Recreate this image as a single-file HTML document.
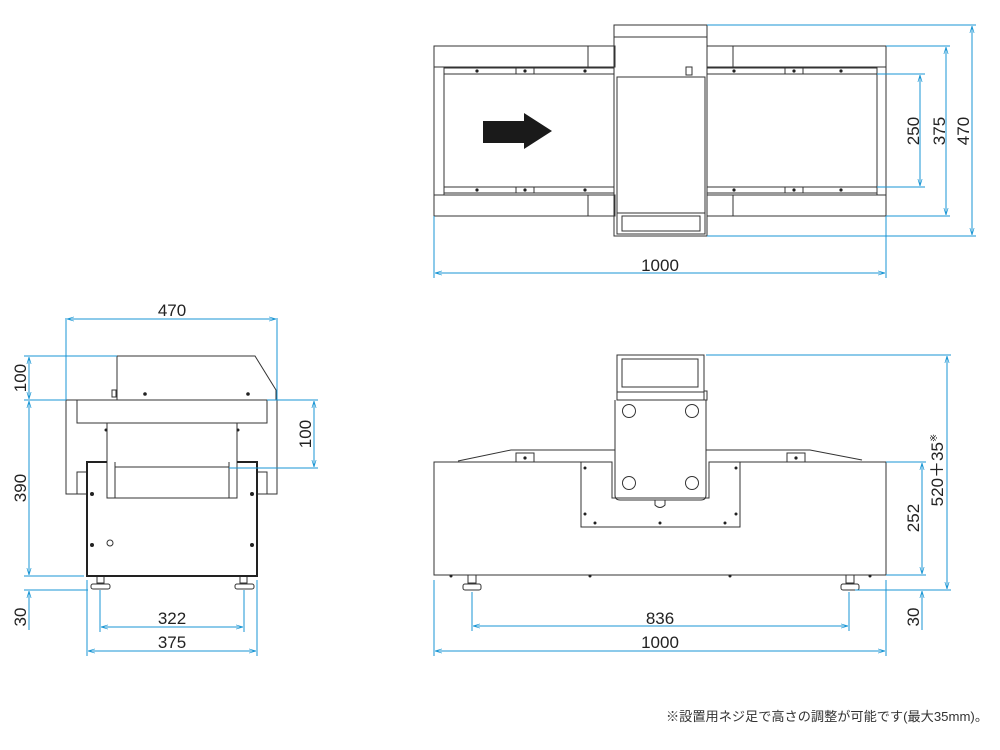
<!DOCTYPE html>
<html><head><meta charset="utf-8"><style>
html,body{margin:0;padding:0;background:#fff;}
svg{display:block;}
.l{stroke:#333;stroke-width:1;fill:none;}
.t{stroke:#222;stroke-width:2;fill:none;}
.d{stroke:#1a96d4;stroke-width:1;fill:none;}
.txt{font-family:"Liberation Sans",sans-serif;font-size:17px;fill:#222;}
.dot{fill:#222;}
</style></head><body>
<svg width="1000" height="750" viewBox="0 0 1000 750" xmlns="http://www.w3.org/2000/svg">
<defs>
<marker id="a" viewBox="0 0 10 10" refX="10" refY="5" markerWidth="7" markerHeight="7" orient="auto-start-reverse"><path d="M0,2 L10,5 L0,8" fill="none" stroke="#1a96d4" stroke-width="1"/></marker>
</defs>

<!-- ===== TOP VIEW ===== -->
<g class="l">
<rect x="434" y="46" width="181" height="21"/><line x1="588" y1="46" x2="588" y2="67"/>
<rect x="434" y="195" width="181" height="21"/><line x1="588" y1="195" x2="588" y2="216"/>
<rect x="434" y="67" width="10" height="128"/>
<line x1="444" y1="68" x2="614" y2="68"/><line x1="444" y1="74" x2="614" y2="74"/>
<line x1="444" y1="187" x2="614" y2="187"/><line x1="444" y1="193" x2="614" y2="193"/>
<rect x="516" y="68" width="18" height="6"/><rect x="516" y="187" width="18" height="6"/>
<rect x="707" y="46" width="179" height="21"/><line x1="733" y1="46" x2="733" y2="67"/>
<rect x="707" y="195" width="179" height="21"/><line x1="733" y1="195" x2="733" y2="216"/>
<rect x="877" y="67" width="9" height="128"/>
<line x1="707" y1="68" x2="877" y2="68"/><line x1="707" y1="74" x2="877" y2="74"/>
<line x1="707" y1="187" x2="877" y2="187"/><line x1="707" y1="193" x2="877" y2="193"/>
<rect x="785" y="68" width="18" height="6"/><rect x="785" y="187" width="18" height="6"/>
<rect x="614" y="25" width="93" height="211"/>
<line x1="614" y1="37" x2="707" y2="37"/>
<rect x="617" y="77" width="88" height="136"/>
<rect x="617" y="213" width="88" height="21"/>
<rect x="622" y="216" width="78" height="15"/>
<rect x="686" y="67" width="6" height="8"/>
</g>
<g class="dot">
<circle cx="477" cy="71" r="1.6"/><circle cx="525" cy="71" r="1.6"/><circle cx="585" cy="71" r="1.6"/>
<circle cx="477" cy="190" r="1.6"/><circle cx="525" cy="190" r="1.6"/><circle cx="585" cy="190" r="1.6"/>
<circle cx="734" cy="71" r="1.6"/><circle cx="794" cy="71" r="1.6"/><circle cx="841" cy="71" r="1.6"/>
<circle cx="734" cy="190" r="1.6"/><circle cx="794" cy="190" r="1.6"/><circle cx="841" cy="190" r="1.6"/>
</g>
<polygon points="483,121 524,121 524,113 552,131 524,149 524,143 483,143" fill="#1a1a1a"/>
<g class="d">
<line x1="707" y1="25" x2="976" y2="25"/><line x1="707" y1="236" x2="976" y2="236"/>
<line x1="886" y1="46" x2="950" y2="46"/><line x1="886" y1="216" x2="950" y2="216"/>
<line x1="877" y1="74" x2="925" y2="74"/><line x1="877" y1="187" x2="925" y2="187"/>
<line x1="972" y1="26" x2="972" y2="235" marker-start="url(#a)" marker-end="url(#a)"/>
<line x1="946" y1="47" x2="946" y2="215" marker-start="url(#a)" marker-end="url(#a)"/>
<line x1="920" y1="75" x2="920" y2="186" marker-start="url(#a)" marker-end="url(#a)"/>
<line x1="434" y1="216" x2="434" y2="278"/><line x1="886" y1="216" x2="886" y2="278"/>
<line x1="435" y1="273" x2="885" y2="273" marker-start="url(#a)" marker-end="url(#a)"/>
</g>
<text class="txt" x="660" y="271" text-anchor="middle">1000</text>
<text class="txt" transform="translate(919,131) rotate(-90)" text-anchor="middle">250</text>
<text class="txt" transform="translate(945,131) rotate(-90)" text-anchor="middle">375</text>
<text class="txt" transform="translate(969,131) rotate(-90)" text-anchor="middle">470</text>

<!-- ===== SIDE VIEW ===== -->
<g class="l">
<path d="M117,400 L117,356 L255,356 L276,390 L276,400"/>
<rect x="112" y="390" width="4" height="7"/>
<rect x="77" y="400" width="190" height="23"/>
<path d="M66,400 L66,494 L87,494 M257,494 L277,494 L277,400 L66,400"/>
<rect x="77" y="472" width="10" height="22"/><rect x="257" y="472" width="10" height="22"/>
<path d="M107,423 L107,498 L237,498 L237,423"/>
<line x1="115" y1="467" x2="229" y2="467"/>
<line x1="115" y1="462" x2="115" y2="498"/><line x1="229" y1="462" x2="229" y2="498"/>
<path d="M97,576 L97,583 L104,583 L104,576 M240,576 L240,583 L247,583 L247,576"/>
<rect x="91" y="584" width="19" height="5" rx="2"/><rect x="235" y="584" width="19" height="5" rx="2"/>
<circle cx="110" cy="543" r="3"/>
</g>
<g class="t"><path d="M107,462 L87,462 L87,576 L257,576 L257,462 L237,462"/></g>
<g class="dot">
<circle cx="145" cy="394" r="1.8"/><circle cx="248" cy="394" r="1.8"/>
<circle cx="92" cy="494" r="2"/><circle cx="252" cy="494" r="2"/>
<circle cx="92" cy="545" r="2"/><circle cx="252" cy="545" r="2"/>
<circle cx="106" cy="430" r="1.5"/><circle cx="238" cy="430" r="1.5"/>
</g>
<g class="d">
<line x1="66" y1="318" x2="66" y2="400"/><line x1="277" y1="318" x2="277" y2="400"/>
<line x1="67" y1="319" x2="276" y2="319" marker-start="url(#a)" marker-end="url(#a)"/>
<line x1="24" y1="356" x2="117" y2="356"/><line x1="24" y1="400" x2="66" y2="400"/>
<line x1="24" y1="576" x2="84" y2="576"/><line x1="24" y1="590" x2="88" y2="590"/>
<line x1="29" y1="357" x2="29" y2="399" marker-start="url(#a)" marker-end="url(#a)"/>
<line x1="29" y1="401" x2="29" y2="575" marker-start="url(#a)" marker-end="url(#a)"/>
<line x1="29" y1="591" x2="29" y2="630" marker-start="url(#a)"/>
<line x1="267" y1="400" x2="318" y2="400"/><line x1="229" y1="468" x2="318" y2="468"/>
<line x1="314" y1="401" x2="314" y2="467" marker-start="url(#a)" marker-end="url(#a)"/>
<line x1="100" y1="590" x2="100" y2="632"/><line x1="244" y1="590" x2="244" y2="632"/>
<line x1="101" y1="627" x2="243" y2="627" marker-start="url(#a)" marker-end="url(#a)"/>
<line x1="87" y1="580" x2="87" y2="656"/><line x1="257" y1="580" x2="257" y2="656"/>
<line x1="88" y1="651" x2="256" y2="651" marker-start="url(#a)" marker-end="url(#a)"/>
</g>
<text class="txt" x="172" y="316" text-anchor="middle">470</text>
<text class="txt" x="172" y="624" text-anchor="middle">322</text>
<text class="txt" x="172" y="648" text-anchor="middle">375</text>
<text class="txt" transform="translate(26,378) rotate(-90)" text-anchor="middle">100</text>
<text class="txt" transform="translate(26,488) rotate(-90)" text-anchor="middle">390</text>
<text class="txt" transform="translate(26,617) rotate(-90)" text-anchor="middle">30</text>
<text class="txt" transform="translate(311,434) rotate(-90)" text-anchor="middle">100</text>

<!-- ===== FRONT VIEW ===== -->
<g class="l">
<path d="M458,461 L511,450 L615,450 M706,450 L810,450 L862,460"/>
<rect x="516" y="453" width="18" height="9"/><rect x="787" y="453" width="18" height="9"/>
<path d="M612,462 L434,462 L434,575 L886,575 L886,462 L709,462"/>
<path d="M581,462 L581,527 L740,527 L740,462 L709,462 L709,498 L612,498 L612,462 Z"/>
<rect x="617" y="355" width="87" height="45"/>
<rect x="622" y="359" width="76" height="28"/>
<line x1="617" y1="392" x2="704" y2="392"/>
<rect x="704" y="391" width="3" height="9"/>
<path d="M615,400 L615,495 Q615,500 620,500 L701,500 Q706,500 706,495 L706,400"/>
<path d="M655,500 L655,505 Q660,510 665,505 L665,500"/>
<circle cx="629" cy="411" r="6.5"/><circle cx="692" cy="411" r="6.5"/>
<circle cx="629" cy="483" r="6.5"/><circle cx="692" cy="483" r="6.5"/>
<path d="M468,575 L468,583 L476,583 L476,575 M846,575 L846,583 L854,583 L854,575"/>
<rect x="463" y="584" width="18" height="6" rx="2"/><rect x="841" y="584" width="18" height="6" rx="2"/>
</g>
<g class="dot">
<circle cx="525" cy="458" r="1.6"/><circle cx="796" cy="458" r="1.6"/>
<circle cx="585" cy="468" r="1.5"/><circle cx="736" cy="468" r="1.5"/>
<circle cx="585" cy="514" r="1.5"/><circle cx="736" cy="514" r="1.5"/>
<circle cx="595" cy="523" r="1.5"/><circle cx="660" cy="523" r="1.5"/><circle cx="725" cy="523" r="1.5"/>
<circle cx="451" cy="576" r="1.5"/><circle cx="590" cy="576" r="1.5"/><circle cx="730" cy="576" r="1.5"/><circle cx="870" cy="576" r="1.5"/>
</g>
<g class="d">
<line x1="706" y1="355" x2="951" y2="355"/>
<line x1="886" y1="462" x2="926" y2="462"/><line x1="886" y1="575" x2="926" y2="575"/>
<line x1="855" y1="590" x2="951" y2="590"/>
<line x1="947" y1="356" x2="947" y2="589" marker-start="url(#a)" marker-end="url(#a)"/>
<line x1="922" y1="463" x2="922" y2="574" marker-start="url(#a)" marker-end="url(#a)"/>
<line x1="922" y1="591" x2="922" y2="630" marker-start="url(#a)"/>
<line x1="472" y1="592" x2="472" y2="631"/><line x1="849" y1="592" x2="849" y2="631"/>
<line x1="473" y1="626" x2="848" y2="626" marker-start="url(#a)" marker-end="url(#a)"/>
<line x1="434" y1="580" x2="434" y2="656"/><line x1="886" y1="580" x2="886" y2="656"/>
<line x1="435" y1="651" x2="885" y2="651" marker-start="url(#a)" marker-end="url(#a)"/>
</g>
<text class="txt" x="660" y="624" text-anchor="middle">836</text>
<text class="txt" x="660" y="648" text-anchor="middle">1000</text>
<text class="txt" transform="translate(919,518) rotate(-90)" text-anchor="middle">252</text>
<text class="txt" transform="translate(919,617) rotate(-90)" text-anchor="middle">30</text>
<text class="txt" transform="translate(943,470) rotate(-90)" text-anchor="middle">520＋35<tspan font-size="10" dy="-6">※</tspan></text>

<text x="666" y="721" textLength="322" lengthAdjust="spacingAndGlyphs" style="font-family:'Liberation Sans','Noto Sans CJK JP',sans-serif;font-size:13px;fill:#333">※設置用ネジ足で高さの調整が可能です(最大35mm)。</text>
</svg>
</body></html>
